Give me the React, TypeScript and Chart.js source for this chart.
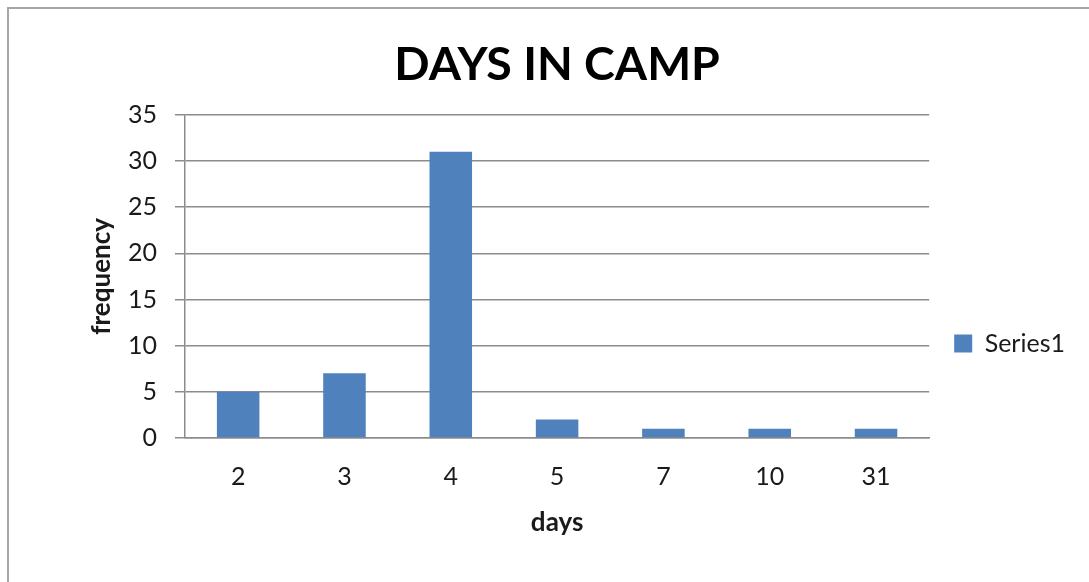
import React, { useEffect, useRef } from "react";
import { Chart, registerables } from "chart.js";

Chart.register(...registerables);

const categories = ["2", "3", "4", "5", "7", "10", "31"];
const frequency = [5, 7, 31, 2, 1, 1, 1];
const seriesName = "Series1";
const chartTitle = "DAYS IN CAMP";
const xTitle = "days";
const yTitle = "frequency";

const FONT = "Lato, 'Open Sans', sans-serif";

export default function App() {
  const ref = useRef<HTMLCanvasElement | null>(null);

  useEffect(() => {
    document.documentElement.style.overflow = "hidden";
    document.body.style.overflow = "hidden";
    const canvas = ref.current;
    if (!canvas) return;
    const chart = new Chart(canvas, {
      type: "bar",
      data: {
        labels: categories,
        datasets: [
          {
            label: seriesName,
            data: frequency,
            backgroundColor: "#4F81BD",
            borderWidth: 0,
            categoryPercentage: 1,
            barPercentage: 0.4,
          },
        ],
      },
      options: {
        animation: false,
        responsive: false,
        devicePixelRatio: 1,
        layout: { padding: { left: 73, right: 14, top: 0, bottom: 40 } },
        plugins: {
          title: {
            display: true,
            fullSize: false,
            text: chartTitle,
            color: "#000",
            font: { family: FONT, size: 46.5, weight: "bold" },
            padding: { top: 28, bottom: 22 },
          },
          legend: {
            display: true,
            position: "right",
            align: "start",
            fullSize: false,
            title: {
              display: true,
              text: " ",
              font: { size: 1 },
              padding: { top: 190, bottom: 0 },
            },
            labels: {
              boxWidth: 18,
              boxHeight: 18,
              padding: 25,
              color: "#1a1a1a",
              font: { family: FONT, size: 25 },
            },
          },
          tooltip: { enabled: false },
        },
        scales: {
          x: {
            grid: { display: false, drawTicks: false },
            border: { display: true, color: "#8c8c8c", width: 1.5 },
            ticks: {
              color: "#1a1a1a",
              font: { family: FONT, size: 25 },
              padding: 24,
              maxRotation: 0,
            },
            title: {
              display: true,
              text: xTitle,
              color: "#1a1a1a",
              font: { family: FONT, size: 26, weight: "bold" },
              padding: { top: 4, bottom: 4 },
            },
            afterFit: (scale: any) => {
              scale.height = 104;
            },
          },
          y: {
            min: 0,
            max: 35,
            ticks: {
              stepSize: 5,
              color: "#1a1a1a",
              font: { family: FONT, size: 25 },
              padding: 18,
            },
            grid: {
              color: "#8c8c8c",
              lineWidth: 1.5,
              drawTicks: true,
              tickLength: 10,
            },
            border: { display: true, color: "#8c8c8c", width: 1.5 },
            title: {
              display: true,
              text: yTitle,
              color: "#1a1a1a",
              font: { family: FONT, size: 26, weight: "bold" },
              padding: { top: 4, bottom: 4 },
            },
            afterFit: (scale: any) => {
              scale.width = 103;
            },
          },
        },
      },
    });
    return () => chart.destroy();
  }, []);

  return (
    <div
      style={{
        position: "absolute",
        left: 7,
        top: 7,
        borderTop: "2px solid #a6a6a6",
        borderLeft: "2px solid #a6a6a6",
        width: 1090,
        height: 580,
        background: "#fff",
      }}
    >
      <canvas ref={ref} width={1080} height={573} style={{ display: "block" }} />
    </div>
  );
}
